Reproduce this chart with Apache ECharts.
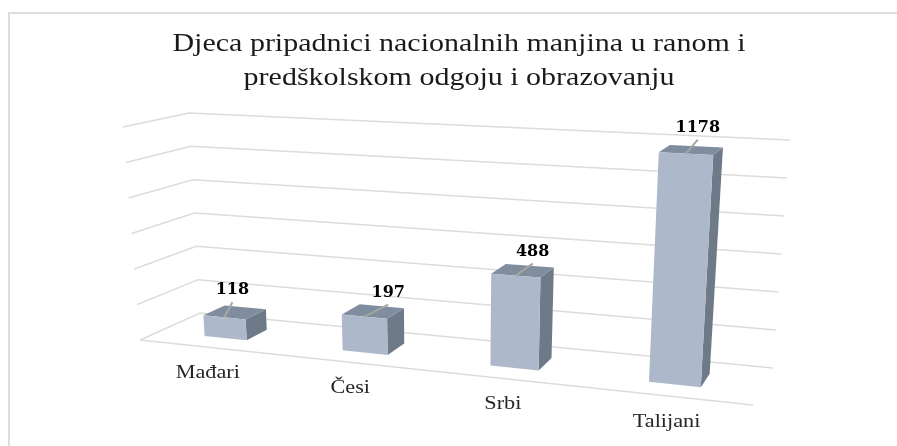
<!DOCTYPE html>
<html>
<head>
<meta charset="utf-8">
<style>
  html, body { margin: 0; padding: 0; background: #fff; }
  #main { width: 897px; height: 446px; }
</style>
<script src="https://cdn.jsdelivr.net/npm/echarts@6/dist/echarts.min.js"></script>
</head>
<body>
<div id="main"></div>
<script>
var titleLines = ['Djeca pripadnici nacionalnih manjina u ranom i', 'predškolskom odgoju i obrazovanju'];
var categories = ['Mađari', 'Česi', 'Srbi', 'Talijani'];
var values = [118, 197, 488, 1178];
var ticks = [0, 200, 400, 600, 800, 1000, 1200];

var W = 897, H = 446;

// corners of the floor and the lift of the walls
var floorFL = [140, 340], floorFR = [753, 405], floorBL = [200, 313], floorBR = [773, 368];
var liftFL = [-17, -213], liftFR = [15, -245], liftBL = [-11, -200], liftBR = [17, -228];
var persp = -0.13; // x axis squeezes a bit towards the left
var barFront = 0.32, barBack = 0.69, barBand = 0.312;
var leaderShift = [[8, -15], [24, -12], [17, -12], [12, -14]]; // end of leader line from bar top
var labelGap = 12;

function mix(a, b, t) {
  return [a[0] + (b[0] - a[0]) * t, a[1] + (b[1] - a[1]) * t];
}

// the grid fills the whole canvas, so a pixel from api.coord is a plain fraction of both axes.
// this turns it into the tilted 3d view, depth 0 = front edge, 1 = back wall
function warp(px, py, depth) {
  var s = px / W, v = 1 - py / H;
  var u = (1 + persp) * s / (1 + persp * s);
  var floor = mix(mix(floorFL, floorFR, u), mix(floorBL, floorBR, u), depth);
  var lift = mix(mix(liftFL, liftFR, u), mix(liftBL, liftBR, u), depth);
  return [floor[0] + lift[0] * v, floor[1] + lift[1] * v];
}

function renderWall(params, api) {
  var y = api.coord([0, api.value(0)])[1];
  return {
    type: 'polyline',
    shape: { points: [warp(0, y, 0), warp(0, y, 1), warp(W, y, 1)] },
    style: { fill: null, stroke: '#dcdcdc', lineWidth: 1.5 }
  };
}

function renderFloorEdge(params, api) {
  var y = api.coord([0, 0])[1];
  return {
    type: 'line',
    shape: { x1: warp(0, y, 0)[0], y1: warp(0, y, 0)[1], x2: warp(W, y, 0)[0], y2: warp(W, y, 0)[1] },
    style: { stroke: '#dcdcdc', lineWidth: 1.5 }
  };
}

function face(points, color) {
  return { type: 'polygon', shape: { points: points }, style: { fill: color } };
}

function renderBar(params, api) {
  var i = api.value(0);
  var top = api.coord([i, api.value(1)]);
  var base = api.coord([i, 0]);
  var half = api.size([1, 0])[0] * barBand / 2;
  var l = top[0] - half, r = top[0] + half;
  var yt = top[1], yb = base[1];

  var frontTop = warp(top[0], yt, barFront);
  var shift = leaderShift[i];
  var leaderEnd = [frontTop[0] + shift[0], frontTop[1] + shift[1]];
  var under = warp(top[0], yb, 0);

  return {
    type: 'group',
    children: [
      face([warp(r, yt, barFront), warp(r, yt, barBack), warp(r, yb, barBack), warp(r, yb, barFront)], '#6f7a88'),
      face([warp(l, yt, barFront), warp(r, yt, barFront), warp(r, yt, barBack), warp(l, yt, barBack)], '#808d9e'),
      face([warp(l, yt, barFront), warp(r, yt, barFront), warp(r, yb, barFront), warp(l, yb, barFront)], '#adb9ca'),
      {
        type: 'line',
        shape: { x1: frontTop[0], y1: frontTop[1], x2: leaderEnd[0], y2: leaderEnd[1] },
        style: { stroke: '#a6a6a0', lineWidth: 2 }
      },
      {
        type: 'text',
        style: {
          text: String(api.value(1)), x: leaderEnd[0], y: leaderEnd[1] - labelGap,
          align: 'center', verticalAlign: 'middle', fill: '#000',
          font: 'bold 16px "DejaVu Serif"'
        }
      },
      {
        // the labels in the picture are stretched sideways, so scale instead of a bigger font
        type: 'text',
        x: under[0], y: under[1] + 26, scaleX: 1.17,
        style: {
          text: categories[i], x: 0, y: 0,
          align: 'center', verticalAlign: 'middle', fill: '#262626',
          font: '19px "Liberation Serif"'
        }
      }
    ]
  };
}

var myChart = echarts.init(document.getElementById('main'), null, { renderer: 'canvas' });
myChart.setOption({
  animation: false,
  backgroundColor: '#fff',
  grid: { left: 0, right: 0, top: 0, bottom: 0 },
  xAxis: { type: 'category', data: categories, show: false },
  yAxis: { type: 'value', min: 0, max: 1200, interval: 200, show: false },
  graphic: [
    {
      type: 'polyline',
      shape: { points: [[9, H], [9, 13], [W, 13]] },
      style: { fill: null, stroke: '#dddddd', lineWidth: 2 }
    },
    {
      type: 'text',
      x: 459, y: 27, scaleX: 1.2,
      style: {
        text: titleLines.join('\n'), x: 0, y: 0,
        align: 'center', verticalAlign: 'top', lineHeight: 34,
        fill: '#1a1a1a', font: '25px "Liberation Serif"'
      }
    }
  ],
  series: [
    { type: 'custom', renderItem: renderWall, data: ticks.map(function (t) { return [t]; }), encode: { y: 0 }, z: 1 },
    { type: 'custom', renderItem: renderFloorEdge, data: [[0]], z: 1 },
    {
      type: 'custom',
      renderItem: renderBar,
      data: values.map(function (v, i) { return [i, v]; }),
      encode: { x: 0, y: 1 },
      z: 2
    }
  ]
});
</script>
</body>
</html>
